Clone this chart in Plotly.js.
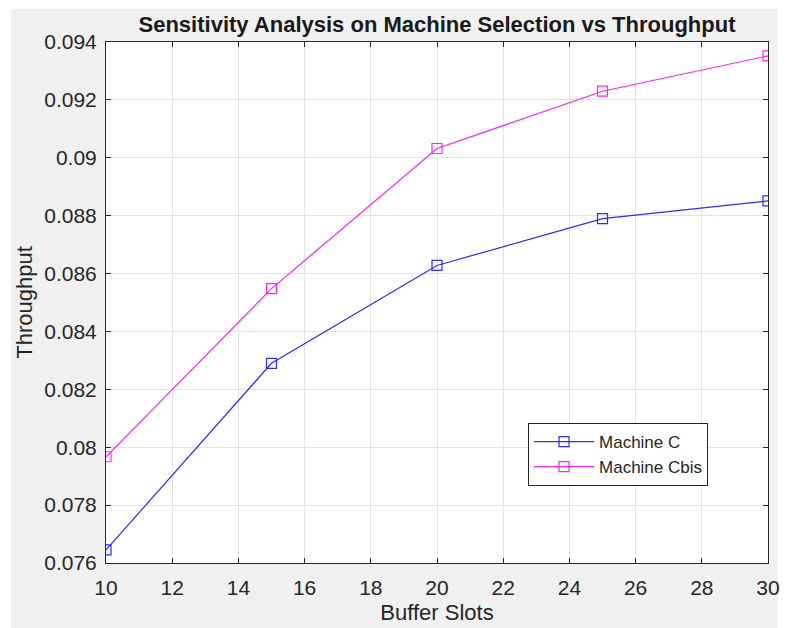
<!DOCTYPE html>
<html>
<head>
<meta charset="utf-8">
<script src="https://cdn.plot.ly/plotly-3.0.1.min.js"></script>
<style>html,body{margin:0;padding:0;background:#fff;}#chart{width:787px;height:628px;}</style>
</head>
<body>
<div id="chart"></div>
<script>
const bufferSlots = [10, 15, 20, 25, 30];
const machineC = [0.07645, 0.08290, 0.08628, 0.08790, 0.08851];
const machineCbis = [0.07967, 0.08548, 0.09032, 0.09230, 0.09352];
const xTickVals = [10, 12, 14, 16, 18, 20, 22, 24, 26, 28, 30];
const yTickVals = [0.076, 0.078, 0.08, 0.082, 0.084, 0.086, 0.088, 0.09, 0.092, 0.094];
const yTickText = ['0.076', '0.078', '0.08', '0.082', '0.084', '0.086', '0.088', '0.09', '0.092', '0.094'];

const axisColor = '#262626';
const traces = [
  {x: bufferSlots, y: machineC, name: 'Machine C', type: 'scatter', mode: 'lines+markers',
   line: {color: '#2b2bff', width: 1.2},
   marker: {symbol: 'square-open', size: 10, color: '#2b2bff', line: {width: 1.2}}},
  {x: bufferSlots, y: machineCbis, name: 'Machine Cbis', type: 'scatter', mode: 'lines+markers',
   line: {color: '#ff22ff', width: 1.2},
   marker: {symbol: 'square-open', size: 10, color: '#ff22ff', line: {width: 1.2}}}
];
const layout = {
  width: 787, height: 628,
  margin: {l: 106, r: 19, t: 42, b: 65, pad: 0},
  paper_bgcolor: '#ffffff',
  plot_bgcolor: 'rgba(0,0,0,0)',
  font: {family: 'Liberation Sans, Arial, sans-serif', color: axisColor, size: 21},
  title: {text: '<b>Sensitivity Analysis on Machine Selection vs Throughput</b>',
          font: {size: 22, color: '#1a1a1a'}, x: 0.5, xref: 'paper', y: 0.961, yref: 'container', yanchor: 'middle', pad: {t: 0, b: 0}},
  xaxis: {range: [10, 30], tickvals: xTickVals, ticks: 'inside', ticklen: 5, tickcolor: axisColor,
          showline: true, linecolor: axisColor, linewidth: 1, mirror: 'ticks',
          showgrid: true, gridcolor: '#e3e3e3', zeroline: false, ticklabelstandoff: 6,
          tickfont: {size: 21}, title: {text: 'Buffer Slots', font: {size: 22}, standoff: 6}},
  yaxis: {range: [0.076, 0.094], tickvals: yTickVals, ticktext: yTickText, ticks: 'inside', ticklen: 5, tickcolor: axisColor,
          showline: true, linecolor: axisColor, linewidth: 1, mirror: 'ticks',
          showgrid: true, gridcolor: '#e3e3e3', zeroline: false, ticklabelstandoff: 4,
          tickfont: {size: 21}, title: {text: 'Throughput', font: {size: 22}, standoff: 5}},
  legend: {x: 0.6375, y: 0.2687, xanchor: 'left', yanchor: 'top', bgcolor: '#ffffff',
           bordercolor: axisColor, borderwidth: 1, font: {size: 17}, tracegroupgap: 0, itemwidth: 60},
  showlegend: true,
  shapes: [
    {type: 'rect', xref: 'paper', yref: 'paper', x0: -0.1435, x1: 1.015, y0: -0.14, y1: 1.0633,
     fillcolor: '#f0f0f0', line: {width: 0}, layer: 'below'},
    {type: 'rect', xref: 'paper', yref: 'paper', x0: 0, x1: 1, y0: 0, y1: 1,
     fillcolor: '#ffffff', line: {width: 0}, layer: 'below'}
  ]
};
Plotly.newPlot('chart', traces, layout, {displayModeBar: false, staticPlot: true});
</script>
</body>
</html>
